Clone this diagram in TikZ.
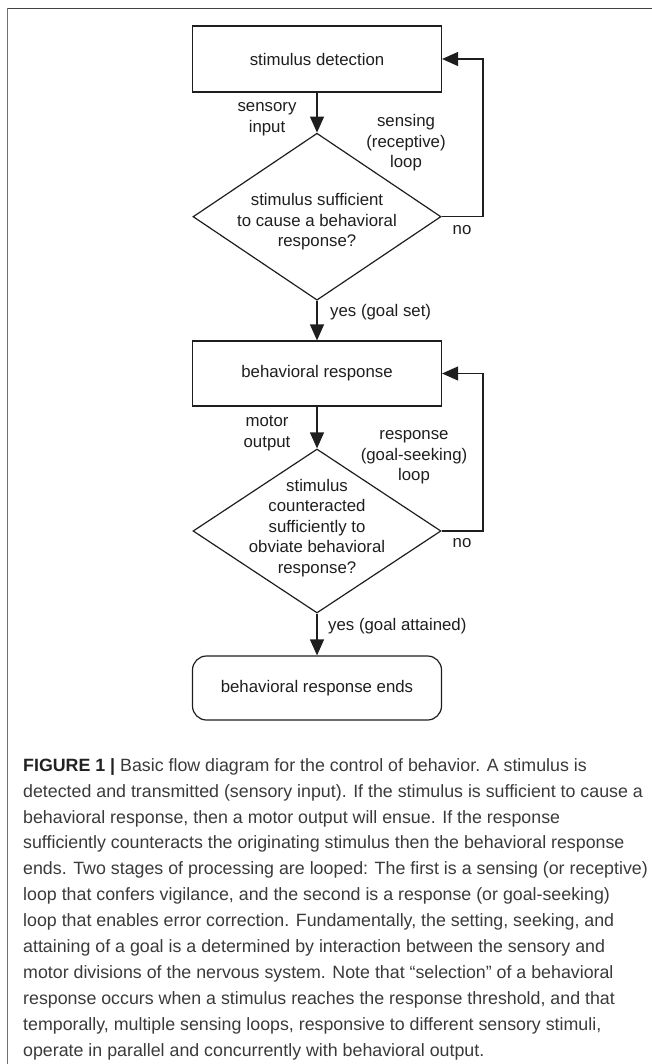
\documentclass[tikz,border=0pt]{standalone}
\usepackage{fontspec}
\setmainfont{Liberation Sans}
\usetikzlibrary{arrows.meta,shapes.geometric}
\definecolor{ink}{HTML}{1E1E1E}
\definecolor{captext}{HTML}{3A3A3A}
\definecolor{capbold}{HTML}{222222}
\definecolor{frametop}{HTML}{444444}
\definecolor{frameleft}{HTML}{707070}
\begin{document}
\begin{tikzpicture}[x=1pt,y=-1pt,
  flow/.style={draw=ink, line width=1.2pt},
  procbox/.style={flow, rectangle, minimum width=249pt, minimum height=66pt, inner sep=0pt, font=\fontsize{16.8}{20.5}\selectfont, text=ink},
  endbox/.style={procbox, rounded corners=14pt, minimum height=64pt},
  decision/.style={flow, diamond, minimum width=248pt, inner sep=0pt},
  dtext/.style={align=center, inner sep=0pt, font=\fontsize{16.8}{20.5}\selectfont, text=ink},
  lbl/.style={dtext},
  arr/.style={draw=ink, line width=1.2pt, -{Triangle[length=16pt,width=14pt]}},
  frameline/.style={line width=1.6pt},
]
\useasboundingbox (0,0) rectangle (652,1064);
% outer frame (top and left edges only)
\coordinate (ftl) at (7.5,8.5);
\coordinate (ftr) at (652,8.5);
\coordinate (fbl) at (7.5,1064);
\draw[frameline, frametop] (ftl) -- (ftr);
\draw[frameline, frameleft] (ftl) -- (fbl);

% main flow
\node[procbox] (detect) at (317,59) {stimulus detection};
\node[decision, minimum height=167pt] (suff) at (317,216.7) {};
\node[dtext] (sufftext) at (317,222) {\strut stimulus sufficient\\\strut to cause a behavioral\\\strut response?};
\node[procbox, minimum height=65pt] (resp) at (317,373.5) {behavioral response};
\node[decision, minimum height=164pt] (counter) at (317,531) {};
\node[dtext] (countertext) at (317,528) {\strut stimulus\\\strut counteracted\\\strut sufficiently to\\\strut obviate behavioral\\\strut response?};
\node[endbox] (ends) at (317,688) {behavioral response ends};

% vertical connectors
\draw[arr] (detect.south) -- (suff.north);
\draw[arr] (suff.south) -- (resp.north);
\draw[arr] (resp.south) -- (counter.north);
\draw[arr] (counter.south) -- (ends.north);

% loops
\coordinate (loopx) at (483,0);
\draw[arr] (suff.east) -- (suff.east -| loopx) -- (detect.east -| loopx) -- (detect.east);
\draw[arr] (counter.east) -- (counter.east -| loopx) -- (resp.east -| loopx) -- (resp.east);

% labels
\node[lbl] (sensin) at (267,118) {\strut sensory\\\strut input};
\node[lbl] (senseloop) at (406,143) {\strut sensing\\\strut (receptive)\\\strut loop};
\node[lbl] (no1) at (462,230) {\strut no};
\node[lbl, anchor=west] (yes1) at (330,312) {\strut yes (goal set)};
\node[lbl] (motout) at (267,433) {\strut motor\\\strut output};
\node[lbl] (resploop) at (414,456) {\strut response\\\strut (goal-seeking)\\\strut loop};
\node[lbl] (no2) at (462,543) {\strut no};
\node[lbl, anchor=west] (yes2) at (328,626) {\strut yes (goal attained)};

% caption
\node[anchor=north west, inner sep=0pt, align=left, text=captext, font=\fontsize{17.8}{25.9}\selectfont] (caption) at (23,752.9)
{\strut{\color{capbold}\bfseries FIGURE 1 |} Basic flow diagram for the control of behavior. A stimulus is\\
detected and transmitted (sensory input). If the stimulus is sufficient to cause a\\
behavioral response, then a motor output will ensue. If the response\\
sufficiently counteracts the originating stimulus then the behavioral response\\
ends. Two stages of processing are looped: The first is a sensing (or receptive)\\
loop that confers vigilance, and the second is a response (or goal-seeking)\\
loop that enables error correction. Fundamentally, the setting, seeking, and\\
attaining of a goal is a determined by interaction between the sensory and\\
motor divisions of the nervous system. Note that “selection” of a behavioral\\
response occurs when a stimulus reaches the response threshold, and that\\
temporally, multiple sensing loops, responsive to different sensory stimuli,\\
operate in parallel and concurrently with behavioral output.};
\end{tikzpicture}
\end{document}
